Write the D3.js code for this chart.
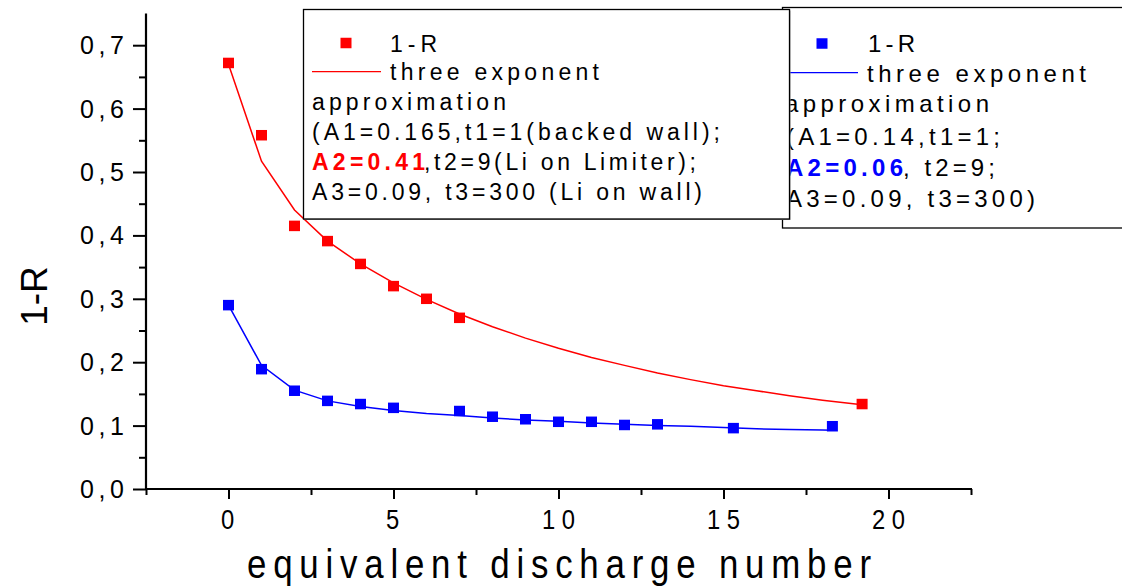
<!DOCTYPE html>
<html>
<head>
<meta charset="utf-8">
<script src="https://cdn.jsdelivr.net/npm/d3@7"></script>
<style>
  html, body { margin: 0; padding: 0; background: #fff; }
  svg { display: block; }
  text { font-family: "Liberation Sans", Arial, sans-serif; fill: #000; }
</style>
</head>
<body>
<svg id="chart" width="1122" height="588"></svg>
<script>
// ---- data ----
const redX = [0, 1, 2, 3, 4, 5, 6, 7, 19.2];
const redY = [0.672, 0.558, 0.415, 0.391, 0.355, 0.320, 0.300, 0.270, 0.134];
const blueX = [0, 1, 2, 3, 4, 5, 7, 8, 9, 10, 11, 12, 13, 15.3, 18.3];
const blueY = [0.290, 0.189, 0.155, 0.139, 0.134, 0.128, 0.123, 0.114, 0.110, 0.106, 0.106, 0.101, 0.102, 0.096, 0.099];
const redFitX = [0, 1, 2, 3, 4, 5, 6, 7, 8, 9, 10, 11, 12, 13, 14, 15, 16, 17, 18, 19.2];
const redFitY = [0.670, 0.517, 0.440, 0.391, 0.355, 0.325, 0.299, 0.276, 0.256, 0.238, 0.222, 0.2075, 0.195, 0.183, 0.1725, 0.163, 0.155, 0.147, 0.140, 0.133];
const blueFitX = [0, 1, 2, 3, 4, 5, 6, 7, 8, 9, 10, 11, 12, 13, 14, 15, 16, 17, 18, 18.3];
const blueFitY = [0.290, 0.195, 0.156, 0.139, 0.130, 0.124, 0.119, 0.116, 0.112, 0.109, 0.107, 0.104, 0.102, 0.100, 0.099, 0.097, 0.095, 0.094, 0.093, 0.0926];
const yTicks = [0, 0.1, 0.2, 0.3, 0.4, 0.5, 0.6, 0.7];
const yTickLabels = ["0,0", "0,1", "0,2", "0,3", "0,4", "0,5", "0,6", "0,7"];
const yMinorTicks = [0.05, 0.15, 0.25, 0.35, 0.45, 0.55, 0.65];
const xTicks = [0, 5, 10, 15, 20];
const xTickLabels = ["0", "5", "10", "15", "20"];
const xMinorTicks = [-2.5, 2.5, 7.5, 12.5, 17.5, 22.5];
const xTitle = "equivalent discharge number";
const yTitle = "1-R";
const redLegend = {
  marker: "1-R",
  line: "three exponent",
  rows: ["approximation", "(A1=0.165,t1=1(backed wall);", ["A2=0.41", ",t2=9(Li on Limiter);"], "A3=0.09, t3=300 (Li on wall)"]
};
const blueLegend = {
  marker: "1-R",
  line: "three exponent",
  rows: ["approximation", "(A1=0.14,t1=1;", ["A2=0.06", ", t2=9;"], "A3=0.09, t3=300)"]
};
const RED = "#ff0000", BLUE = "#0000ff";

// ---- scales ----
const svg = d3.select("#chart");
const x = d3.scaleLinear().domain([-2.5, 22.5]).range([146, 971]);
const y = d3.scaleLinear().domain([0, 0.75]).range([489, 13.5]);

// ---- axes ----
const gy = svg.append("g").attr("transform", `translate(${x(-2.5)},0)`);
gy.call(d3.axisLeft(y).tickValues(yTicks).tickSize(13).tickFormat(""));
gy.append("g").call(d3.axisLeft(y).tickValues(yMinorTicks).tickSize(7).tickFormat(""));
gy.selectAll(".domain").remove();
gy.selectAll("line").attr("stroke", "#000").attr("stroke-width", 2);
gy.append("line").attr("x1", 0).attr("x2", 0).attr("y1", y(0.75)).attr("y2", y(0) + 1)
  .attr("stroke", "#000").attr("stroke-width", 2.2);

const gx = svg.append("g").attr("transform", `translate(0,${y(0)})`);
gx.call(d3.axisBottom(x).tickValues(xTicks).tickSize(10).tickFormat(""));
gx.append("g").call(d3.axisBottom(x).tickValues(xMinorTicks).tickSize(6).tickFormat(""));
gx.selectAll(".domain").remove();
gx.selectAll("line").attr("stroke", "#000").attr("stroke-width", 2);
gx.append("line").attr("x1", x(-2.5) - 1).attr("x2", x(22.5) + 1).attr("y1", 0).attr("y2", 0)
  .attr("stroke", "#000").attr("stroke-width", 2.2);

// text fitted to a measured width (letter-spaced look of the original)
function fitted(sel, str, x0, yb, len, size, weight, color) {
  const t = sel.append("text").attr("x", x0).attr("y", yb)
    .attr("font-size", size).attr("font-weight", weight || "normal")
    .attr("textLength", len).attr("lengthAdjust", "spacing").text(str);
  if (color) t.style("fill", color);
  return t;
}
yTicks.forEach((v, i) => {
  fitted(svg, yTickLabels[i], 80, y(v) + 9, 44, 25);
});
xTicks.forEach((v, i) => {
  const w = xTickLabels[i].length === 1 ? 15 : 33;
  const cx = x(v);
  svg.append("text")
    .attr("transform", `translate(${cx},529) scale(0.85,1)`)
    .attr("x", -w / 2 / 0.85).attr("y", 0)
    .attr("font-size", 28)
    .attr("textLength", w / 0.85).attr("lengthAdjust", "spacing")
    .text(xTickLabels[i]);
});

// axis titles
svg.append("text")
  .attr("transform", `translate(247,578) scale(0.85,1)`)
  .attr("x", 0).attr("y", 0).attr("font-size", 41)
  .attr("textLength", 624 / 0.85).attr("lengthAdjust", "spacing").text(xTitle);
svg.append("text").attr("transform", `translate(47,296) rotate(-90)`)
  .attr("text-anchor", "middle").attr("font-size", 37).text(yTitle);

// ---- fit lines ----
const line = d3.line().x(d => x(d[0])).y(d => y(d[1]));
svg.append("path").datum(redFitX.map((v, i) => [v, redFitY[i]]))
  .attr("d", line).attr("fill", "none").attr("stroke", RED).attr("stroke-width", 1.5);
svg.append("path").datum(blueFitX.map((v, i) => [v, blueFitY[i]]))
  .attr("d", line).attr("fill", "none").attr("stroke", BLUE).attr("stroke-width", 1.5);

// ---- markers ----
const MW = 11, MH = 10.5;
svg.append("g").selectAll("rect").data(redX.map((v, i) => [v, redY[i]])).join("rect")
  .attr("x", d => x(d[0]) - MW / 2).attr("y", d => y(d[1]) - MH / 2)
  .attr("width", MW).attr("height", MH).attr("fill", RED);
svg.append("g").selectAll("rect").data(blueX.map((v, i) => [v, blueY[i]])).join("rect")
  .attr("x", d => x(d[0]) - MW / 2).attr("y", d => y(d[1]) - MH / 2)
  .attr("width", MW).attr("height", MH).attr("fill", BLUE);

// ---- blue legend (behind) ----
const lb = svg.append("g");
lb.append("rect").attr("x", 782.5).attr("y", 7.5).attr("width", 360).attr("height", 220.5)
  .attr("fill", "#fff").attr("stroke", "#000").attr("stroke-width", 1.3);
lb.append("rect").attr("x", 822 - MW / 2).attr("y", 43.5 - MH / 2).attr("width", MW).attr("height", MH).attr("fill", BLUE);
fitted(lb, blueLegend.marker, 868, 52, 47, 24);
lb.append("line").attr("x1", 789).attr("x2", 858).attr("y1", 72.7).attr("y2", 72.7).attr("stroke", BLUE).attr("stroke-width", 1.3);
fitted(lb, blueLegend.line, 867, 81.5, 219, 24);
fitted(lb, blueLegend.rows[0], 785, 112, 204, 24);
fitted(lb, blueLegend.rows[1], 786, 145, 214, 24);
fitted(lb, blueLegend.rows[2][0], 786, 176, 117, 24, "bold", BLUE);
fitted(lb, blueLegend.rows[2][1], 903, 176, 92, 24);
fitted(lb, blueLegend.rows[3], 786, 207, 249, 24);

// ---- red legend (front) ----
const lr = svg.append("g");
lr.append("rect").attr("x", 304.5).attr("y", 10.5).attr("width", 486).attr("height", 209.5).attr("fill", "#999");
lr.append("rect").attr("x", 303.5).attr("y", 9.5).attr("width", 486).attr("height", 209.5)
  .attr("fill", "#fff").attr("stroke", "#000").attr("stroke-width", 1.3);
lr.append("rect").attr("x", 346 - MW / 2).attr("y", 43 - MH / 2).attr("width", MW).attr("height", MH).attr("fill", RED);
fitted(lr, redLegend.marker, 390, 51.5, 47, 23);
lr.append("line").attr("x1", 312).attr("x2", 381).attr("y1", 71.7).attr("y2", 71.7).attr("stroke", RED).attr("stroke-width", 1.3);
fitted(lr, redLegend.line, 390, 80, 209, 23);
fitted(lr, redLegend.rows[0], 312, 109.5, 194, 23);
fitted(lr, redLegend.rows[1], 312, 140, 408, 23);
fitted(lr, redLegend.rows[2][0], 312, 170, 113, 23, "bold", RED);
fitted(lr, redLegend.rows[2][1], 424, 170, 272, 23);
fitted(lr, redLegend.rows[3], 312, 200, 390, 23);
</script>
</body>
</html>
